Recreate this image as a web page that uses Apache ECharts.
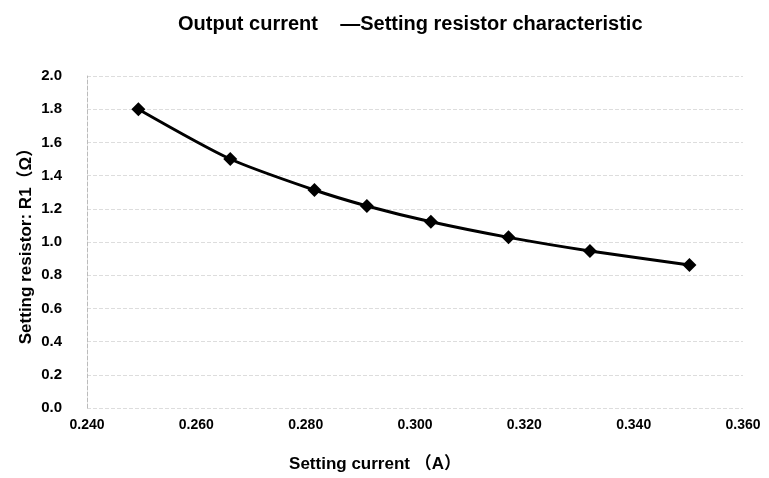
<!DOCTYPE html>
<html><head><meta charset="utf-8">
<script src="https://cdn.jsdelivr.net/npm/echarts@6/dist/echarts.min.js"></script>
<style>html,body{margin:0;padding:0;background:#fff}#c{width:769px;height:478px}</style>
</head><body><div id="c"></div>
<script>
const currentA = [0.2494, 0.2662, 0.2816, 0.2912, 0.3029, 0.3171, 0.3320, 0.3502];
const resistorOhm = [1.80, 1.50, 1.313, 1.217, 1.122, 1.028, 0.946, 0.861];
const titleText = 'Output current    \u2014Setting resistor characteristic';
const xName = 'Setting current \uff08A\uff09';
const yName = 'Setting resistor: R1\uff08\u03a9\uff09';

const chart = echarts.init(document.getElementById('c'));
const font = 'Liberation Sans, Arial, sans-serif';
const nameFont = 'Liberation Sans, Noto Sans CJK JP, sans-serif';
chart.setOption({
  backgroundColor: '#fff',
  animation: false,
  title: {
    text: titleText, left: 173, top: 9,
    textStyle: {fontFamily: font, fontSize: 20, fontWeight: 'bold', color: '#000'}
  },
  grid: {left: 87, right: 26, top: 76, bottom: 70},
  xAxis: {
    type: 'value', min: 0.24, max: 0.36, interval: 0.02,
    name: xName, nameLocation: 'middle', nameGap: 48, nameMoveOverlap: false,
    nameTextStyle: {fontFamily: nameFont, fontSize: 17, fontWeight: 'bold', color: '#000', padding: [0, 80, 0, 0]},
    axisLine: {show: false}, axisTick: {show: false}, splitLine: {show: false},
    axisLabel: {margin: 10, fontFamily: font, fontSize: 14, fontWeight: 'bold', color: '#000',
      formatter: v => v.toFixed(3)}
  },
  yAxis: {
    type: 'value', min: 0, max: 2, interval: 0.2,
    name: yName, nameLocation: 'middle', nameGap: 52, nameRotate: 90, nameMoveOverlap: false,
    nameTextStyle: {fontFamily: nameFont, fontSize: 17, fontWeight: 'bold', color: '#000'},
    axisLine: {show: true, lineStyle: {color: '#bbb', type: 'dashed', width: 1}},
    axisTick: {show: false},
    splitLine: {show: true, lineStyle: {color: '#ddd', type: 'dashed', width: 1}},
    axisLabel: {margin: 25, fontFamily: font, fontSize: 15, fontWeight: 'bold', color: '#000',
      formatter: v => v.toFixed(1)}
  },
  series: [{
    type: 'line',
    data: currentA.map((x, i) => [x, resistorOhm[i]]),
    smooth: 0.25,
    symbol: 'diamond', symbolSize: 14,
    lineStyle: {color: '#000', width: 3},
    itemStyle: {color: '#000'}
  }]
});
</script></body></html>
